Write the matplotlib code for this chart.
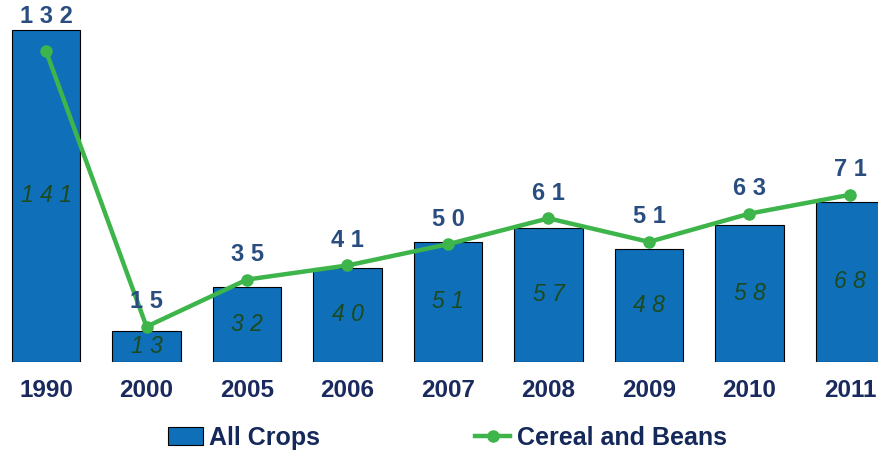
import numpy as np
import matplotlib.pyplot as plt
from matplotlib.lines import Line2D
from matplotlib.patches import Patch

years = ['1990', '2000', '2005', '2006', '2007', '2008', '2009', '2010', '2011']
all_crops = [141, 13, 32, 40, 51, 57, 48, 58, 68]
cereal_beans = [132, 15, 35, 41, 50, 61, 51, 63, 71]

plt.rcParams['font.family'] = ['Liberation Sans', 'DejaVu Sans']

bar_col = '#0F6FB8'
line_col = '#3DB54A'

fig = plt.figure(figsize=(8.79, 4.53), dpi=100)
ax = fig.add_axes([0, 0.2009, 1, 0.7991])
x = np.arange(len(years))

ax.bar(x, all_crops, width=0.68, color=bar_col, edgecolor='black', linewidth=0.8, zorder=2)
ax.plot(x, cereal_beans, color=line_col, lw=3.2, marker='o', ms=8, zorder=3)

ax.set_xlim(-0.458, 8.289)
ax.set_ylim(0, 153.7)

# px -> data units
u = 153.7 / 362
for i in range(len(years)):
    ax.text(x[i], all_crops[i] / 2, ' '.join(str(all_crops[i])), ha='center', va='center',
            fontsize=16.5, style='italic', color='#1B4A1E', zorder=4)
    ly = max(cereal_beans[i] + 25 * u, all_crops[i] + 13 * u)
    ax.text(x[i], ly, ' '.join(str(cereal_beans[i])), ha='center', va='center',
            fontsize=17, fontweight='bold', color='#2A4D80', zorder=4)

ax.set_xticks(x)
ax.set_xticklabels(years, fontsize=17.5, fontweight='bold', color='#1B2A5E')
ax.tick_params(axis='x', length=0, pad=12)
ax.set_yticks([])
for s in ax.spines.values():
    s.set_visible(False)

handles = [Patch(facecolor=bar_col, edgecolor='black', linewidth=0.8),
           Line2D([0], [0], color=line_col, lw=3.2, marker='o', ms=8)]
leg = fig.legend(handles, ['All Crops', 'Cereal and Beans'], loc='center',
                 bbox_to_anchor=(0.509, 0.034), ncol=2, frameon=False,
                 columnspacing=6.2, handlelength=1.4, handletextpad=0.25,
                 prop={'weight': 'bold', 'size': 18})
for t in leg.get_texts():
    t.set_color('#14285A')

fig.savefig('out.png', dpi=100)
